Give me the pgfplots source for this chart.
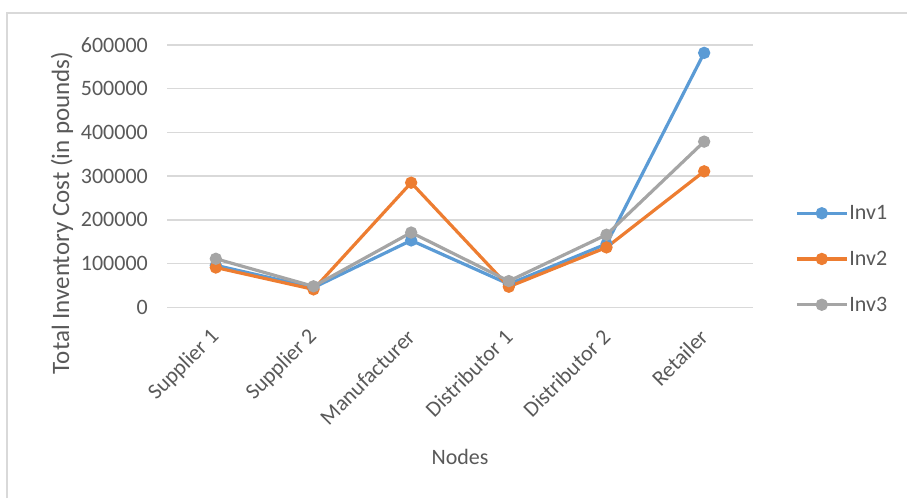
\documentclass[border=0pt]{standalone}
\usepackage{pgfplots}
\pgfplotsset{compat=1.18}
\usepackage{fontspec}
\setmainfont{Carlito}
\definecolor{inva}{HTML}{5B9BD5}
\definecolor{invb}{HTML}{ED7D31}
\definecolor{invc}{HTML}{A5A5A5}
\definecolor{gridc}{HTML}{D9D9D9}
\definecolor{txt}{HTML}{595959}
\newcommand{\cf}{\fontsize{22}{26}\selectfont}
\begin{document}
\begin{tikzpicture}
\useasboundingbox (0pt,0pt) rectangle (907pt,498pt);
\draw[gridc, line width=1.5pt] (7pt,0pt) -- (7pt,485pt) -- (907pt,485pt);
\begin{axis}[
  at={(167pt,190.7pt)}, anchor=south west,
  scale only axis, width=586pt, height=262.3pt,
  xmin=-0.5, xmax=5.5, ymin=0, ymax=600000,
  xtick={0,1,2,3,4,5},
  xticklabels={Supplier 1, Supplier 2, Manufacturer, Distributor 1, Distributor 2, Retailer},
  ytick={0,100000,200000,300000,400000,500000,600000},
  axis line style={draw=none}, major tick length=0pt,
  ymajorgrids, grid style={gridc, line width=1.5pt},
  scaled y ticks=false,
  yticklabel style={/pgf/number format/fixed, /pgf/number format/1000 sep={}, /pgf/number format/assume math mode=true, inner sep=0pt, xshift=-19pt},
  every tick label/.append style={font=\cf, text=txt},
  xticklabel style={xshift=0pt, yshift=-26pt, rotate=45, anchor=east, inner sep=0pt},
  ylabel={Total Inventory Cost (in pounds)},
  ylabel style={at={(axis description cs:-0.179,0.36)}, anchor=center, rotate=0, font=\fontsize{25}{29}\selectfont, text=txt},
  xlabel={Nodes},
  xlabel style={at={(axis description cs:0.5,-0.571)}, anchor=center, font=\cf, text=txt},
  legend style={at={(1.0717,0.184)}, anchor=west, draw=none, font=\cf, text=txt,
    row sep=28pt, inner sep=0pt, nodes={inner sep=1pt}},
  legend cell align=left,
  legend image code/.code={\draw[#1, mark repeat=2, mark phase=2] plot coordinates {(0pt,0pt) (25pt,0pt) (50pt,0pt)};},
  every axis plot/.append style={line width=3.2pt, mark=*, mark size=4.5pt},
  clip=false,
]
\addplot[color=inva, mark options={fill=inva}] coordinates {(0,96000) (1,45000) (2,153000) (3,53000) (4,145000) (5,582000)};
\addlegendentry{Inv1}
\addplot[color=invb, mark options={fill=invb}] coordinates {(0,91000) (1,41000) (2,285000) (3,47000) (4,137000) (5,311000)};
\addlegendentry{Inv2}
\addplot[color=invc, mark options={fill=invc}] coordinates {(0,111000) (1,48000) (2,171000) (3,60000) (4,166000) (5,379000)};
\addlegendentry{Inv3}
\end{axis}
\end{tikzpicture}
\end{document}
